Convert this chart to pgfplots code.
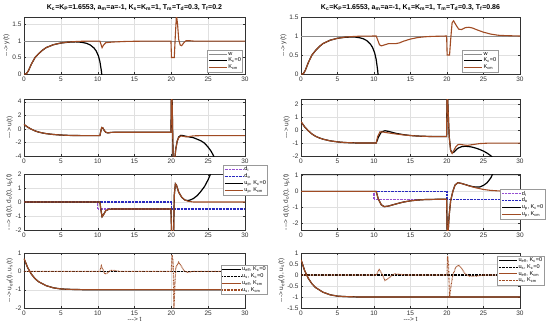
\documentclass[border=0pt]{standalone}
\usepackage{fontspec}
\setmainfont{Liberation Sans}
\usepackage{pgfplots}
\pgfplotsset{compat=1.18}
\definecolor{kcm}{RGB}{160,75,35}
\definecolor{dic}{RGB}{150,80,210}
\definecolor{doc}{RGB}{40,40,190}
\definecolor{axc}{RGB}{50,50,50}
\newcommand{\sub}[1]{\textsubscript{#1}}
\pgfplotsset{
 base/.style={scale only axis, xmin=0, xmax=30, xtick={0,5,...,30},
  grid=major, major grid style={draw=black!12, line width=0.3pt},
  axis line style={draw=axc, line width=0.4pt},
  tick style={draw=axc, line width=0.3pt}, major tick length=2pt, tick align=inside,
  ticklabel style={font=\fontsize{6.5}{7}\selectfont, text=axc},
  /pgf/number format/assume math mode=true,
  yticklabel style={/pgf/number format/fixed},
  label style={font=\fontsize{6.5}{7}\selectfont, text=axc},
  ylabel shift=-4pt, xlabel shift=-5pt,
  xticklabel shift=-1pt, yticklabel shift=-1pt,
  legend style={font=\fontsize{5.6}{6.4}\selectfont, draw=black!40, line width=0.3pt,
   inner sep=1pt, nodes={inner sep=0.7pt}, row sep=0pt},
  legend cell align=left,
  legend image code/.code={\draw[##1] (0cm,0cm) -- (0.65cm,0cm);},
  title style={font=\bfseries\fontsize{7}{8}\selectfont, text=black, yshift=-3pt}},
 L/.style={base, width=221pt},
 R/.style={base, width=219pt},
 blk/.style={black, line width=1.2pt},
 brn/.style={kcm, line width=1.1pt},
 ww/.style={black!45, line width=0.4pt},
 dots/.style={line width=1.1pt, dash pattern=on 0.7pt off 0.7pt},
}
\begin{document}
\begin{tikzpicture}
\useasboundingbox (0,0) rectangle (550pt,-330pt);
% ---------------- Left row 1
\begin{axis}[L, height=57pt, at={(24pt,-17pt)}, anchor=north west, ymin=0, ymax=1.73, ytick={0,0.5,1,1.5},
 ylabel={-{}-{}-> y(t)},
 title={K\sub{c}=K\sub{P}=1.6553, a\sub{m}=a=-1, K\sub{s}=K\sub{m}=1, T\sub{m}=T\sub{d}=0.3, T\sub{f}=0.2},
 legend style={at={(0.99,0.035)}, anchor=south east}]
\addplot[ww] coordinates {(0,1)(30,1)};
\addlegendentry{w}
\addplot[blk] coordinates {(0,0)(0.3,0)(0.6,0.1)(1,0.3)(1.5,0.5)(2,0.62)(2.5,0.72)(3,0.8)(4,0.89)(5,0.94)(6,0.965)(7,0.975)(7.5,0.97)(8,0.955)(8.5,0.93)(9,0.88)(9.5,0.79)(9.8,0.7)(10.1,0.55)(10.3,0.38)(10.5,0.1)(10.6,-0.1)};
\addlegendentry{K\sub{c}=0}
\addplot[brn] coordinates {(0,0)(0.3,0)(0.6,0.1)(1,0.3)(1.5,0.5)(2,0.62)(2.5,0.72)(3,0.8)(4,0.89)(5,0.94)(6,0.97)(7,0.985)(8,0.995)(10.3,1)(10.45,0.9)(10.6,0.8)(10.8,0.88)(11.1,0.95)(12,0.97)(14,0.99)(17,1)(19.95,1)(20.02,0.5)(20.4,0.5)(20.55,1.2)(20.7,1.8)(20.85,1.5)(21.0,1.05)(21.2,0.88)(21.4,0.86)(21.7,0.95)(22,1.01)(22.5,1.01)(23,1)(30,1)};
\addlegendentry{K\sub{cm}}
\end{axis}
% ---------------- Left row 2
\begin{axis}[L, height=57pt, at={(24pt,-99pt)}, anchor=north west, ymin=-4, ymax=4.4, ytick={-4,-2,0,2,4},
 ylabel={-{}-{}-> u(t)}]
\addplot[blk] coordinates {(0,0.65)(0.5,0.25)(1,-0.05)(1.5,-0.3)(2,-0.48)(2.5,-0.6)(3,-0.7)(4,-0.83)(5,-0.91)(6,-0.96)(7,-0.98)(8,-1)(10.3,-1)(10.4,-0.5)(10.55,0.2)(10.7,0.15)(10.9,-0.25)(11.1,-0.5)(11.4,-0.6)(11.8,-0.52)(12.5,-0.5)(19.95,-0.5)(20.0,4.6)(20.1,4.6)(20.25,-4.6)(20.45,-4.6)(20.6,-3)(20.8,-1.8)(21,-1.2)(21.3,-0.95)(21.6,-1.0)(22,-1.1)(23,-1.3)(24,-1.75)(24.5,-2.1)(25,-2.7)(25.4,-3.3)(25.8,-4.1)};
\addplot[brn] coordinates {(0,0.65)(0.5,0.25)(1,-0.05)(1.5,-0.3)(2,-0.48)(2.5,-0.6)(3,-0.7)(4,-0.83)(5,-0.91)(6,-0.96)(7,-0.98)(8,-1)(10.3,-1)(10.4,-0.5)(10.55,0.2)(10.7,0.15)(10.9,-0.25)(11.1,-0.5)(11.4,-0.6)(11.8,-0.52)(12.5,-0.5)(19.95,-0.5)(20.0,4.6)(20.1,4.6)(20.25,-4.6)(20.45,-4.6)(20.6,-3)(20.8,-1.8)(21,-1.3)(21.3,-1.05)(21.6,-1.1)(22,-1.18)(22.5,-1.12)(23,-1.03)(24,-1)(30,-1)};
\end{axis}
% ---------------- Left row 3
\begin{axis}[L, height=56pt, at={(24pt,-174pt)}, anchor=north west, ymin=-2, ymax=2, ytick={-2,-1,0,1,2},
 ylabel={-{}-{}-> d\sub{i}(t), d\sub{o}(t), u\sub{p}(t)},
 legend style={at={(0.9,1.16)}, anchor=north west}]
\addplot[dic, dots] coordinates {(0,0)(10,0)(10,-0.5)(30,-0.5)};
\addlegendentry{d\sub{i}}
\addplot[doc, dots] coordinates {(0,0)(20,0)(20,-0.5)(30,-0.5)};
\addlegendentry{d\sub{o}}
\addplot[blk] coordinates {(0,0)(10.3,0)(10.45,-0.6)(10.6,-1.05)(10.8,-0.9)(11.1,-0.62)(11.5,-0.52)(12,-0.5)(19.95,-0.5)(20.05,-2.5)(20.3,-2.5)(20.4,0.5)(20.55,1.3)(20.7,1.2)(21,0.7)(21.4,0.35)(21.8,0.15)(22.2,0.1)(22.6,0.15)(23,0.25)(23.5,0.45)(24,0.75)(24.5,1.1)(25,1.6)(25.4,2.1)};
\addlegendentry{u\sub{p}, K\sub{c}=0}
\addplot[brn] coordinates {(0,0)(10.3,0)(10.45,-0.6)(10.6,-1.05)(10.8,-0.9)(11.1,-0.62)(11.5,-0.52)(12,-0.5)(19.95,-0.5)(20.05,-2.5)(20.3,-2.5)(20.4,0.5)(20.55,1.3)(20.7,1.2)(21,0.7)(21.4,0.35)(21.8,0.15)(22.3,0.05)(23,0)(30,0)};
\addlegendentry{u\sub{p}, K\sub{cm}}
\end{axis}
% ---------------- Left row 4
\begin{axis}[L, height=55pt, at={(24pt,-253pt)}, anchor=north west, ymin=-2, ymax=1, ytick={-2,-1,0,1},
 ylabel={-{}-{}-> u\sub{eff}(t), u\sub{s}(t)}, xlabel={-{}-{}-> t},
 legend style={at={(0.89,0.78)}, anchor=north west}]
\addplot[blk] coordinates {(0,0.7)(0.5,0.2)(1,-0.15)(1.5,-0.4)(2,-0.57)(3,-0.78)(4,-0.9)(5,-0.96)(6,-0.98)(8,-1)(30,-1)};
\addlegendentry{u\sub{eff}, K\sub{c}=0}
\addplot[black, dots] coordinates {(0,0)(30,0)};
\addlegendentry{u\sub{s}, K\sub{c}=0}
\addplot[brn] coordinates {(0,0.7)(0.5,0.2)(1,-0.15)(1.5,-0.4)(2,-0.57)(3,-0.78)(4,-0.9)(5,-0.96)(6,-0.98)(8,-1)(30,-1)};
\addlegendentry{u\sub{eff}, K\sub{cm}}
\addplot[kcm, dots] coordinates {(0,0)(10.3,0)(10.5,0.3)(10.7,0.1)(11,-0.15)(11.3,-0.1)(11.7,0.05)(12.2,0.05)(13,0)(20,0)(20.1,0.9)(20.25,0.5)(20.35,-2)(20.45,-1)(20.6,0.2)(21,0.5)(21.4,0.25)(21.8,0)(22.2,-0.05)(23,0)(30,0)};
\addlegendentry{u\sub{s}, K\sub{cm}}
\end{axis}
% ---------------- Right row 1
\begin{axis}[R, height=57pt, at={(301pt,-17pt)}, anchor=north west, ymin=0, ymax=1.5, ytick={0,0.5,1,1.5},
 ylabel={-{}-{}-> y(t)},
 title={K\sub{c}=K\sub{P}=1.6553, a\sub{m}=a=-1, K\sub{s}=K\sub{m}=1, T\sub{m}=T\sub{d}=0.3, T\sub{f}=0.86},
 legend style={at={(0.9,0.035)}, anchor=south east}]
\addplot[ww] coordinates {(0,1)(30,1)};
\addlegendentry{w}
\addplot[blk] coordinates {(0,0)(0.3,0)(0.6,0.1)(1,0.3)(1.5,0.5)(2,0.62)(2.5,0.72)(3,0.8)(4,0.89)(5,0.94)(6,0.965)(7,0.975)(7.5,0.97)(8,0.955)(8.5,0.93)(9,0.88)(9.5,0.79)(9.8,0.7)(10.1,0.55)(10.3,0.38)(10.5,0.1)(10.6,-0.1)};
\addlegendentry{K\sub{c}=0}
\addplot[brn] coordinates {(0,0)(0.3,0)(0.6,0.1)(1,0.3)(1.5,0.5)(2,0.62)(2.5,0.72)(3,0.8)(4,0.89)(5,0.94)(6,0.97)(7,0.985)(8,0.995)(10.3,1)(10.5,0.9)(10.75,0.77)(11,0.74)(11.5,0.77)(12,0.8)(13,0.8)(13.5,0.82)(14,0.86)(15,0.92)(16,0.96)(17,0.98)(18,0.99)(19.95,1)(20.02,0.5)(20.35,0.5)(20.5,0.9)(20.7,1.35)(20.9,1.4)(21.2,1.3)(21.6,1.18)(22,1.17)(22.5,1.22)(23,1.23)(23.5,1.21)(24,1.17)(25,1.1)(26,1.05)(27,1.02)(28,1.01)(30,1)};
\addlegendentry{K\sub{cm}}
\end{axis}
% ---------------- Right row 2
\begin{axis}[R, height=57pt, at={(301pt,-99pt)}, anchor=north west, ymin=-2, ymax=2.4, ytick={-2,-1,0,1,2},
 ylabel={-{}-{}-> u(t)}]
\addplot[blk] coordinates {(0,0.65)(0.5,0.25)(1,-0.05)(1.5,-0.3)(2,-0.48)(2.5,-0.6)(3,-0.7)(4,-0.83)(5,-0.91)(6,-0.96)(7,-0.98)(8,-1)(10.3,-1)(10.6,-0.55)(11,-0.15)(11.5,-0.05)(12,-0.1)(13,-0.25)(14,-0.35)(15,-0.42)(16,-0.46)(17,-0.48)(18,-0.5)(19.95,-0.5)(20.0,2.6)(20.08,2.6)(20.3,-0.5)(20.5,-1.55)(20.7,-1.75)(20.9,-1.72)(21.2,-1.55)(21.5,-1.4)(22,-1.28)(22.5,-1.25)(23,-1.27)(23.5,-1.32)(24,-1.4)(24.5,-1.5)(25,-1.62)(25.5,-1.78)(26,-1.98)(26.3,-2.15)};
\addplot[brn] coordinates {(0,0.65)(0.5,0.25)(1,-0.05)(1.5,-0.3)(2,-0.48)(2.5,-0.6)(3,-0.7)(4,-0.83)(5,-0.91)(6,-0.96)(7,-0.98)(8,-1)(10.3,-1)(10.5,-0.5)(10.8,-0.15)(11.2,-0.15)(12,-0.22)(13,-0.3)(14,-0.37)(15,-0.42)(16,-0.46)(17,-0.48)(18,-0.5)(19.95,-0.5)(20.0,2.6)(20.08,2.6)(20.3,-0.5)(20.5,-1.6)(20.7,-1.8)(20.9,-1.6)(21.2,-1.3)(21.5,-1.12)(21.8,-1.1)(22.3,-1.15)(22.8,-1.18)(23.5,-1.12)(24.5,-1.04)(25.5,-1.01)(30,-1)};
\end{axis}
% ---------------- Right row 3
\begin{axis}[R, height=56pt, at={(301pt,-174pt)}, anchor=north west, ymin=-2.45, ymax=1.1, ytick={-2,-1,0,1},
 ylabel={-{}-{}-> d\sub{i}(t), d\sub{o}(t), u\sub{p}(t)},
 legend style={at={(0.91,0.73)}, anchor=north west}]
\addplot[dic, dots] coordinates {(0,0)(10,0)(10,-0.5)(30,-0.5)};
\addlegendentry{d\sub{i}}
\addplot[doc, dots] coordinates {(0,0)(20,0)(20,-0.5)(30,-0.5)};
\addlegendentry{d\sub{o}}
\addplot[blk] coordinates {(0,0)(10.3,0)(10.6,-0.5)(11,-0.85)(11.4,-0.97)(12,-0.93)(13,-0.8)(14,-0.68)(15,-0.6)(16,-0.55)(17,-0.52)(19,-0.5)(19.95,-0.5)(20.02,-2.6)(20.15,-2.6)(20.3,-1.5)(20.5,-0.6)(20.8,0)(21.1,0.4)(21.5,0.55)(22,0.5)(23,0.36)(23.5,0.3)(24,0.27)(24.5,0.28)(25,0.38)(25.5,0.55)(26,0.85)(26.3,1.15)};
\addlegendentry{u\sub{p}, K\sub{c}=0}
\addplot[brn] coordinates {(0,0)(10.3,0)(10.6,-0.5)(11,-0.85)(11.4,-0.97)(12,-0.93)(13,-0.8)(14,-0.68)(15,-0.6)(16,-0.55)(17,-0.52)(19,-0.5)(19.95,-0.5)(20.02,-2.6)(20.15,-2.6)(20.3,-1.5)(20.5,-0.6)(20.8,0)(21.1,0.4)(21.5,0.55)(22,0.5)(23,0.35)(24,0.22)(25,0.12)(26,0.06)(27,0.03)(28,0.01)(30,0)};
\addlegendentry{u\sub{p}, K\sub{cm}}
\end{axis}
% ---------------- Right row 4
\begin{axis}[R, height=55pt, at={(301pt,-253pt)}, anchor=north west, ymin=-1.5, ymax=1, ytick={-1.5,-1,-0.5,0,0.5,1},
 ylabel={-{}-{}-> u\sub{eff}(t), u\sub{s}(t)}, xlabel={-{}-{}-> t},
 legend style={at={(0.895,0.95)}, anchor=north west}]
\addplot[blk] coordinates {(0,0.7)(0.5,0.2)(1,-0.15)(1.5,-0.4)(2,-0.57)(3,-0.78)(4,-0.9)(5,-0.96)(6,-0.98)(8,-1)(30,-1)};
\addlegendentry{u\sub{eff}, K\sub{c}=0}
\addplot[black, dots] coordinates {(0,0)(30,0)};
\addlegendentry{u\sub{s}, K\sub{c}=0}
\addplot[brn] coordinates {(0,0.7)(0.5,0.2)(1,-0.15)(1.5,-0.4)(2,-0.57)(3,-0.78)(4,-0.9)(5,-0.96)(6,-0.98)(8,-1)(30,-1)};
\addlegendentry{u\sub{eff}, K\sub{cm}}
\addplot[kcm, dots] coordinates {(0,0)(10.3,0)(10.7,0.25)(11.1,0.05)(11.5,-0.25)(12,-0.15)(12.7,0.05)(13.5,0.03)(14.5,0)(20,0)(20.08,0.85)(20.2,0.5)(20.35,-1)(20.55,-0.5)(20.8,0)(21.2,0.35)(21.6,0.45)(22,0.3)(22.5,0.05)(23,-0.05)(24,-0.05)(25,0)(30,0)};
\addlegendentry{u\sub{s}, K\sub{cm}}
\end{axis}
\end{tikzpicture}
\end{document}
